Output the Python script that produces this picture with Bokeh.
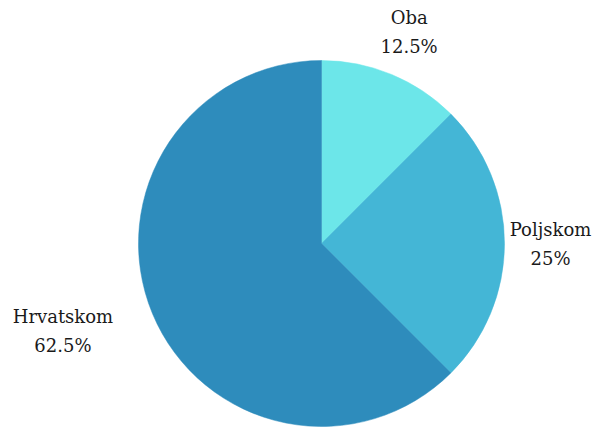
import math
from bokeh.plotting import figure
from bokeh.models import Range1d, ColumnDataSource
from bokeh.core.properties import value
from bokeh.embed import file_html
from bokeh.resources import INLINE

categories = ["Oba", "Poljskom", "Hrvatskom"]
shares = [12.5, 25.0, 62.5]
pct_labels = ["12.5%", "25%", "62.5%"]
colors = ["#6ce6e9", "#44b6d6", "#2e8cbc"]

W, H = 597, 428
p = figure(width=W, height=H, output_backend="svg", toolbar_location=None,
           x_range=Range1d(0, W), y_range=Range1d(0, H), min_border=0)
p.axis.visible = False
p.grid.visible = False
p.outline_line_color = None
p.background_fill_color = "white"
p.border_fill_color = "white"

cx, cy, r = 321, 185, 183
total = sum(shares)
starts, ends, mids = [], [], []
cum = 0.0
for s in shares:
    a_end = math.pi / 2 - cum / total * 2 * math.pi
    cum += s
    a_start = math.pi / 2 - cum / total * 2 * math.pi
    starts.append(a_start)
    ends.append(a_end)
    mids.append((a_start + a_end) / 2)

src = ColumnDataSource(dict(start=starts, end=ends, color=colors))
p.wedge(x=cx, y=cy, radius=r, start_angle="start", end_angle="end",
        fill_color="color", line_color="color", line_width=0.5, source=src)

lr = 229
label_dx = [0, 0, -47]
lx = [cx + lr * math.cos(m) + d for m, d in zip(mids, label_dx)]
ly = [cy + lr * math.sin(m) for m in mids]
lsrc = ColumnDataSource(dict(x=lx, y=ly, name=categories, pct=pct_labels))
common = dict(text_font=value("DejaVu Serif"),
              text_font_size="18px",
              text_color="#1a1a1a", text_align="center", text_baseline="middle")
p.text(x="x", y="y", text="name", y_offset=-14.5, source=lsrc, **common)
p.text(x="x", y="y", text="pct", y_offset=14.5, source=lsrc, **common)

open("out.html", "w").write(file_html(p, INLINE))
